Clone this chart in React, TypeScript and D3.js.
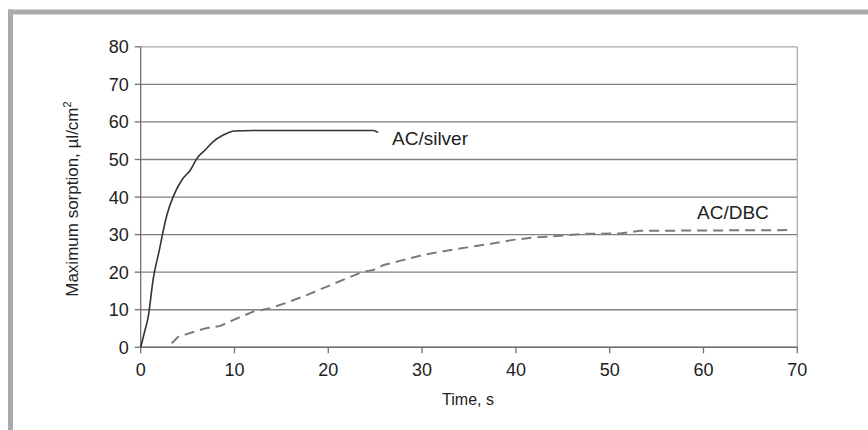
import React from "react";
import * as d3 from "d3";

const silverTime = [0, 0.4, 0.8, 1.35, 2.0, 2.4, 2.8, 3.5, 4.4, 5.3, 6.0, 6.9, 7.7, 8.8, 10.0, 12, 16, 20, 24.8, 25.3];
const silverSorption = [0, 4, 8.1, 18.5, 26, 31, 35.3, 40.3, 44.6, 47.2, 50.3, 52.6, 54.7, 56.5, 57.6, 57.7, 57.7, 57.7, 57.7, 57.2];

const dbcTime = [3.3, 4.0, 4.9, 7.0, 8.5, 9.9, 12.0, 13.8, 15.6, 17.7, 19.8, 22.0, 23.7, 24.8, 25.9, 27.6, 30.1, 32.6, 34.8, 37.2, 39.7, 41.9, 44.7, 47.5, 51.1, 53.2, 60, 69.0];
const dbcSorption = [1.1, 2.8, 3.5, 5.1, 5.7, 7.3, 9.5, 10.4, 11.9, 13.9, 16.1, 18.4, 20.1, 20.6, 21.9, 23.0, 24.6, 25.7, 26.6, 27.5, 28.6, 29.2, 29.7, 30.2, 30.3, 31.0, 31.1, 31.2];

const xTicks = [0, 10, 20, 30, 40, 50, 60, 70];
const yTicks = [0, 10, 20, 30, 40, 50, 60, 70, 80];

const seriesLabels = ["AC/silver", "AC/DBC"];
const xTitle = "Time, s";
const yTitle = "Maximum sorption, \u00b5l/cm";

export default function App() {
  const W = 868, H = 430;
  const x = d3.scaleLinear().domain([0, 70]).range([140.7, 797.3]);
  const y = d3.scaleLinear().domain([0, 80]).range([347.3, 46.8]);
  const font = "'Liberation Sans', Arial, Helvetica, sans-serif";

  const silverLine = d3.line<number>()
    .x((_, i) => x(silverTime[i]))
    .y((d) => y(d))
    .curve(d3.curveMonotoneX)(silverSorption) as string;
  const dbcLine = d3.line<number>()
    .x((_, i) => x(dbcTime[i]))
    .y((d) => y(d))
    .curve(d3.curveLinear)(dbcSorption) as string;

  const [x0, x1] = x.range();
  const [y0, y1] = y.range();

  return (
    <svg width={W} height={H} style={{ position: "absolute", left: 0, top: 0, background: "#fff" }} fontFamily={font}>
      <rect x={0} y={0} width={W} height={H} fill="#fff" />
      {/* frame */}
      <rect x={8} y={9.5} width={W - 8} height={5} fill="#aaabad" />
      <rect x={8} y={9.5} width={5} height={H - 9.5} fill="#aaabad" />

      {/* gridlines */}
      {yTicks.map((t) => (
        <line key={"g" + t} x1={x0} x2={x1} y1={y(t)} y2={y(t)}
          stroke={t === 80 ? "#a8a8a8" : "#808080"} strokeWidth={1.3} />
      ))}
      {/* right border */}
      <line x1={x1} x2={x1} y1={y1} y2={y0} stroke="#aaa" strokeWidth={1.3} />

      {/* axes */}
      <line x1={x0} x2={x0} y1={y1} y2={y0} stroke="#707070" strokeWidth={1.3} />
      <line x1={x0} x2={x1} y1={y0} y2={y0} stroke="#707070" strokeWidth={1.5} />
      {yTicks.map((t) => (
        <g key={"yt" + t}>
          <line x1={x0 - 6} x2={x0} y1={y(t)} y2={y(t)} stroke="#707070" strokeWidth={1.3} />
          <text x={x0 - 12} y={y(t)} dy="0.36em" textAnchor="end" fontSize={18} fill="#222">{t}</text>
        </g>
      ))}
      {xTicks.map((t) => (
        <g key={"xt" + t}>
          <line x1={x(t)} x2={x(t)} y1={y0} y2={y0 + 6} stroke="#707070" strokeWidth={1.3} />
          <text x={x(t)} y={376} textAnchor="middle" fontSize={18} fill="#222">{t}</text>
        </g>
      ))}

      {/* series */}
      <path d={dbcLine} fill="none" stroke="#7a7a7a" strokeWidth={2} strokeDasharray="10,6" />
      <path d={silverLine} fill="none" stroke="#333" strokeWidth={1.6} />

      <text x={392} y={145} fontSize={19} fill="#222">{seriesLabels[0]}</text>
      <text x={697} y={219} fontSize={19} fill="#222">{seriesLabels[1]}</text>

      {/* titles */}
      <text x={468} y={405} textAnchor="middle" fontSize={16} fill="#222">{xTitle}</text>
      <text transform={`translate(78,${(y0 + y1) / 2 + 2}) rotate(-90)`} textAnchor="middle" fontSize={17} fill="#222">
        {yTitle}<tspan dy="-7" fontSize={11}>2</tspan>
      </text>
    </svg>
  );
}
